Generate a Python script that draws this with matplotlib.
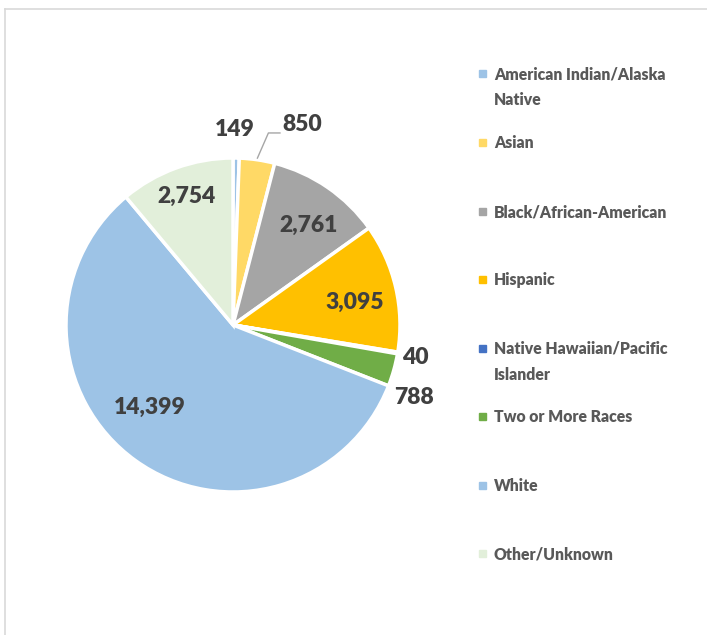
import numpy as np
import matplotlib
matplotlib.use("Agg")
import matplotlib.pyplot as plt
from matplotlib.lines import Line2D
from matplotlib.patches import Rectangle

plt.rcParams['font.family'] = ['Lato', 'DejaVu Sans']

categories = ['American Indian/Alaska\nNative', 'Asian', 'Black/African-American', 'Hispanic',
              'Native Hawaiian/Pacific\nIslander', 'Two or More Races', 'White', 'Other/Unknown']
counts = [149, 850, 2761, 3095, 40, 788, 14399, 2754]
colors = ['#9dc3e6', '#ffd966', '#a5a5a5', '#ffc000', '#4472c4', '#70ad47', '#9dc3e6', '#e2efda']

# label placement: (radius factor, angle shift in degrees)
label_pos = [(1.17, 0.5), (1.267, -10.7), (0.75, -2.5), (0.74, -2.4),
             (1.11, -0.6), (1.17, -6.2), (0.70, -9.3), (0.82, 0.0)]

W, H = 707, 635
fig = plt.figure(figsize=(W / 100, H / 100), dpi=100)
ax = fig.add_axes([0, 0, 1, 1])

cx, cy, r = 233, H - 325, 167
wedges, _ = ax.pie(counts, colors=colors, startangle=90, counterclock=False,
                   center=(cx, cy), radius=r, frame=True,
                   wedgeprops=dict(edgecolor='white', linewidth=2.5))
ax.set_xlim(0, W)
ax.set_ylim(0, H)
ax.set_aspect('equal')
ax.axis('off')

total = sum(counts)
cum = np.cumsum([0] + counts)
for i, v in enumerate(counts):
    mid = 90 - 360 * (cum[i] + v / 2) / total
    rf, shift = label_pos[i]
    a = np.deg2rad(mid + shift)
    x, y = cx + rf * r * np.cos(a), cy + rf * r * np.sin(a)
    ax.text(x, y, f'{v:,}', ha='center', va='center', fontsize=16.5,
            fontweight='heavy', color='#404040')
    if i == 1:
        # leader line for the small Asian slice
        a0 = np.deg2rad(mid)
        x0, y0 = cx + 1.01 * r * np.cos(a0), cy + 1.01 * r * np.sin(a0)
        ax.plot([x0, x0 + 11, x - 22], [y0, y - 8, y - 8], color='#a6a6a6', lw=1)

# legend
ys = [73, 142, 211, 279, 348, 416, 485, 553]
for lab, col, yy in zip(categories, colors, ys):
    ax.add_patch(Rectangle((479, H - yy - 3.5), 7, 7, color=col))
    ax.text(494, H - yy + 7, lab, ha='left', va='top', fontsize=11.3,
            fontweight='heavy', color='#595959', linespacing=1.78)

# outer frame
fig.add_artist(Line2D([5 / W, 5 / W], [0, 1 - 9 / H], transform=fig.transFigure,
                      color='#d9d9d9', lw=1.2))
fig.add_artist(Line2D([5 / W, 1], [1 - 9 / H, 1 - 9 / H], transform=fig.transFigure,
                      color='#d9d9d9', lw=1.2))

fig.savefig('out.png', dpi=100)
